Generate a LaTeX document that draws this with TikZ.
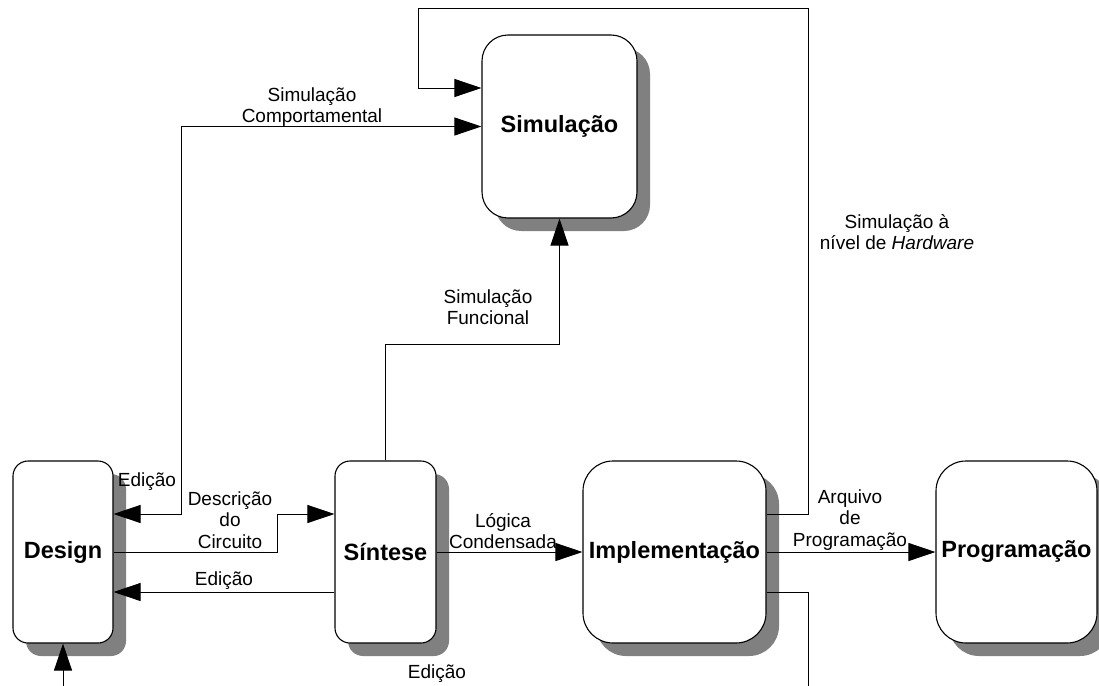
\documentclass[tikz,border=0pt]{standalone}
\usepackage{fontspec}
\setmainfont{Liberation Sans}
\usetikzlibrary{arrows.meta,shadows,calc}
\begin{document}
\begin{tikzpicture}[x=1pt,y=-1pt,
  blockshadow/.style={drop shadow={shadow xshift=13pt,shadow yshift=-13pt,fill=black!50,opacity=1}},
  block/.style={draw=black,line width=1.1pt,fill=white,blockshadow,inner sep=0pt,
    font=\fontsize{23.5}{27}\selectfont\bfseries},
  smallblock/.style={block,rounded corners=15pt},
  bigblock/.style={block,rounded corners=30pt},
  tip/.style={-{Triangle[length=27pt,width=18pt]}},
  twotip/.style={{Triangle[length=27pt,width=18pt]}-{Triangle[length=27pt,width=18pt]}},
  conn/.style={line width=0.9pt,black},
  lbl/.style={align=center,inner sep=0pt,font=\fontsize{19}{21.5}\selectfont}
]
\useasboundingbox (0,0) rectangle (1099,685);

% process blocks
\node[smallblock,minimum width=100pt,minimum height=182pt] (design) at (63,552) {Design};
\node[smallblock,minimum width=101pt,minimum height=182pt] (sintese) at (385.5,552) {Síntese};
\node[bigblock,minimum width=183pt,minimum height=182pt] (impl) at (674.5,552) {Implementação};
\node[bigblock,minimum width=161pt,minimum height=182pt] (prog) at (1016.5,552) {Programação};
\node[block,rounded corners=26pt,minimum width=155pt,minimum height=183pt] (sim) at (559.5,126.5) {Simulação};

% connectors
\draw[conn,twotip] ([yshift=38pt]design.east) -- ++(68,0) |- (sim.west);
\draw[conn,tip] (design.east) -- ++(164,0) |- ([yshift=38pt]sintese.west);
\draw[conn,tip] ([yshift=-40pt]sintese.west) -- ([yshift=-40pt]design.east);
\draw[conn,tip] (sintese.north) -- ++(0,-116) -| (sim.south);
\draw[conn,tip] (sintese.east) -- (impl.west);
\draw[conn,tip] (impl.east) -- (prog.west);
\draw[conn,tip] ([yshift=38pt]impl.east) -- ++(42,0) -- ++(0,-506) -- ++(-390,0)
  |- ([yshift=38.5pt]sim.west);
\coordinate (implout) at (808,686);
\draw[conn] ([yshift=-40pt]impl.east) -| (implout);
\coordinate (designin) at (63,686);
\draw[conn,tip] (designin) -- (design.south);

% connector labels
\node[lbl] (l1) at (147,482) {Edição};
\node[lbl] (l2) at (230,520) {Descrição\\do\\Circuito};
\node[lbl] (l3) at (224,581) {Edição};
\node[lbl] (l4) at (312,107) {Simulação\\Comportamental};
\node[lbl] (l5) at (488,307) {Simulação\\Funcional};
\node[lbl] (l6) at (503,531) {Lógica\\Condensada};
\node[lbl] (l7) at (437,674) {Edição};
\node[lbl] (l8) at (850,520) {Arquivo\\de\\Programação};
\node[lbl] (l9) at (897,232) {Simulação à\\nível de \textit{Hardware}};
\end{tikzpicture}
\end{document}
